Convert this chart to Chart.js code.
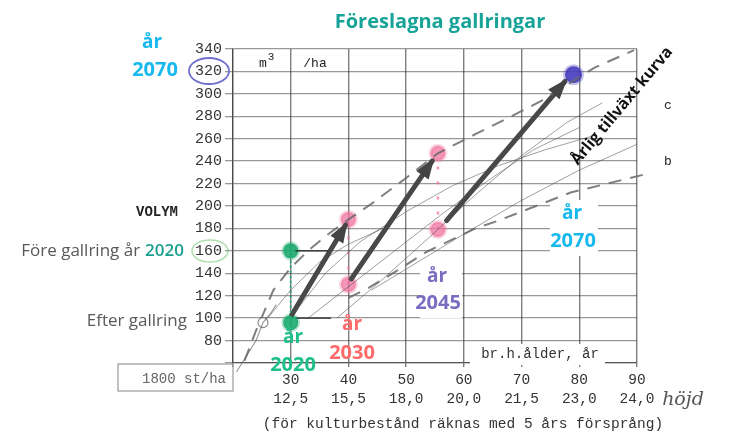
<!DOCTYPE html>
<html>
<head>
<meta charset="utf-8">
<script src="https://cdn.jsdelivr.net/npm/chart.js@4.4.1/dist/chart.umd.min.js"></script>
<style>
html, body { margin: 0; padding: 0; background: #fff; }
#wrap { width: 730px; height: 436px; position: relative; }
</style>
</head>
<body>
<div id="wrap"><canvas id="gallring" width="730" height="436"></canvas></div>
<script>
// x axis: breast height age and matching tree height
const ageTicks = [30, 40, 50, 60, 70, 80, 90];
const heightTicks = ['12,5', '15,5', '18,0', '20,0', '21,5', '23,0', '24,0'];

// thinnings: volume m3/ha before and after
const thinAges = [30, 40, 55.5];
const volBefore = [160, 188, 247];
const volAfter = [96, 130, 179];
const finalAge = [79];
const finalVol = [317];

// growth arrows between thinnings
const arrowStart = [[30.2, 103], [40.5, 135], [57, 187]];
const arrowEnd = [[39.5, 183], [54.5, 240], [77.5, 311]];

// dashed curves from the old table
const curveUpper = [[22, 62], [24, 89], [27, 125], [30, 145], [33, 160], [36, 173], [40, 188], [44, 202], [50, 225], [55.5, 247], [62, 264], [67.5, 278], [73.5, 294], [82.5, 323], [89.5, 339]];
const curveB = [[40, 118], [43.5, 127], [48, 141], [53.5, 159], [62, 180], [66, 187], [71.5, 198], [78.5, 212], [92, 229]];

// thin background curves
const thinCurves = [
    [[30.5, 104], [36, 140], [42, 168], [50, 195], [58, 218], [66, 236], [74, 250], [82, 262]],
    [[33, 100], [40, 128], [48, 160], [56, 192], [64, 222], [72, 250], [80, 270]],
    [[38, 100], [46, 135], [54, 172], [62, 210], [70, 245], [78, 275], [84, 292]],
    [[26, 100], [30, 125], [35, 150], [40, 166], [46, 180]],
    [[44, 125], [52, 150], [60, 175], [70, 205], [80, 232], [90, 255]]
];
const stepCurve = [[20.6, 52], [22.3, 66], [24, 80], [25.2, 96], [26.5, 104], [27.5, 112]];
const openCircle = [[25.2, 96]];

const toXY = arr => arr.map(p => ({ x: p[0], y: p[1] }));
const zipXY = (xs, ys) => xs.map((x, i) => ({ x: x, y: ys[i] }));

const datasets = [];
thinCurves.forEach(c => datasets.push({
    data: toXY(c), showLine: true, borderColor: 'rgba(80,80,80,0.55)', borderWidth: 1,
    pointRadius: 0, clip: false
}));
datasets.push({ data: toXY(stepCurve), showLine: true, borderColor: 'rgba(90,90,90,0.6)', borderWidth: 1.2, pointRadius: 0, clip: false });
datasets.push({ data: toXY(openCircle), pointRadius: 5, backgroundColor: '#fff', borderColor: 'rgba(90,90,90,0.7)', borderWidth: 1.2 });
datasets.push({ data: toXY(curveUpper), showLine: true, borderColor: 'rgba(105,105,105,0.85)', borderWidth: 2, borderDash: [13, 9], pointRadius: 0, clip: false });
datasets.push({ data: toXY(curveB), showLine: true, borderColor: 'rgba(105,105,105,0.85)', borderWidth: 2, borderDash: [13, 9], pointRadius: 0, clip: false });

// dotted verticals at each thinning
const dotColors = ['rgba(30,175,120,0.9)', 'rgba(240,110,160,0.6)', 'rgba(240,110,160,0.7)'];
thinAges.forEach((a, i) => datasets.push({
    data: [{ x: a, y: volAfter[i] }, { x: a, y: volBefore[i] }], showLine: true,
    borderColor: dotColors[i], borderWidth: i === 0 ? 2 : 2.5, borderDash: i === 0 ? [2, 3] : [3, 12], pointRadius: 0
}));

// short marker lines next to the 2020 points
datasets.push({ data: [{ x: 30.8, y: volBefore[0] }, { x: 36.5, y: volBefore[0] }], showLine: true, borderColor: '#222', borderWidth: 1.2, pointRadius: 0 });
datasets.push({ data: [{ x: 31, y: 100 }, { x: 37, y: 100 }], showLine: true, borderColor: '#222', borderWidth: 1.2, pointRadius: 0 });

const arrowIdx = [];
arrowStart.forEach((s, i) => {
    arrowIdx.push(datasets.length);
    datasets.push({ data: [{ x: s[0], y: s[1] }, { x: arrowEnd[i][0], y: arrowEnd[i][1] }], showLine: true, borderColor: '#484848', borderWidth: 5, pointRadius: 0, borderCapStyle: 'round' });
});

const ptColors = ['rgba(25,170,110,0.9)', 'rgba(240,115,160,0.75)', 'rgba(240,115,160,0.75)'];
const ptGlow = ['rgba(25,170,110,0.3)', 'rgba(240,115,160,0.3)', 'rgba(240,115,160,0.3)'];
datasets.push({ data: zipXY(thinAges, volBefore), pointRadius: 7.5, backgroundColor: ptColors, borderColor: ptGlow, borderWidth: 4 });
datasets.push({ data: zipXY(thinAges, volAfter), pointRadius: 7.5, backgroundColor: ptColors, borderColor: ptGlow, borderWidth: 4 });
datasets.push({ data: zipXY(finalAge, finalVol), pointRadius: 8.5, backgroundColor: 'rgba(70,60,190,0.9)', borderColor: 'rgba(70,60,190,0.3)', borderWidth: 4 });

function txt(ctx, s, x, y, font, color, align) {
    ctx.font = font;
    ctx.fillStyle = color;
    ctx.textAlign = align || 'center';
    ctx.textBaseline = 'middle';
    ctx.fillText(s, x, y);
}

const overlay = {
    id: 'overlay',
    beforeDatasetsDraw(chart) {
        const ctx = chart.ctx;
        ctx.save();
        ctx.fillStyle = '#fff';
        ctx.fillRect(420, 262, 42, 56);
        ctx.fillRect(550, 200, 48, 56);
        ctx.fillRect(470, 344, 135, 21);
        ctx.restore();
    },
    afterDatasetsDraw(chart) {
        const ctx = chart.ctx;
        ctx.save();
        // arrow heads
        arrowIdx.forEach(i => {
            const pts = chart.getDatasetMeta(i).data;
            const a = Math.atan2(pts[1].y - pts[0].y, pts[1].x - pts[0].x);
            const L = 17, W = 7.5;
            ctx.beginPath();
            ctx.moveTo(pts[1].x + Math.cos(a) * 4, pts[1].y + Math.sin(a) * 4);
            ctx.lineTo(pts[1].x - Math.cos(a) * L - Math.sin(a) * W, pts[1].y - Math.sin(a) * L + Math.cos(a) * W);
            ctx.lineTo(pts[1].x - Math.cos(a) * L + Math.sin(a) * W, pts[1].y - Math.sin(a) * L - Math.cos(a) * W);
            ctx.closePath();
            ctx.fillStyle = '#444';
            ctx.fill();
        });

        const mono = '"Liberation Mono", "DejaVu Sans Mono", monospace';
        const sans = '"Open Sans", sans-serif';

        txt(ctx, 'Föreslagna gallringar', 440, 22, 'bold 20px ' + sans, '#17a398');

        txt(ctx, 'år', 152, 43, 'bold 19px ' + sans, '#17b9ee');
        txt(ctx, '2070', 155, 70, 'bold 20px ' + sans, '#17b9ee');

        txt(ctx, 'VOLYM', 157, 212, 'bold 14px ' + mono, '#222');
        txt(ctx, 'm', 263, 64, '13px ' + mono, '#222');
        txt(ctx, '3', 271, 57, '11px ' + mono, '#222');
        txt(ctx, '/ha', 315, 64, '13px ' + mono, '#222');

        ctx.font = '600 17px ' + sans;
        const w2020 = ctx.measureText('2020').width;
        txt(ctx, '2020', 184, 251, '600 17px ' + sans, '#1a9e8e', 'right');
        txt(ctx, 'Före gallring år', 184 - w2020 - 5, 251, '17px ' + sans, '#595959', 'right');
        txt(ctx, 'Efter gallring', 187, 321, '17px ' + sans, '#595959', 'right');

        txt(ctx, 'år', 293, 338, 'bold 19px ' + sans, '#1fbf8c');
        txt(ctx, '2020', 293, 365, 'bold 20px ' + sans, '#1fbf8c');
        txt(ctx, 'år', 352, 325, 'bold 19px ' + sans, '#ff6b6b');
        txt(ctx, '2030', 352, 353, 'bold 20px ' + sans, '#ff6b6b');
        txt(ctx, 'år', 437, 277, 'bold 19px ' + sans, '#7a6cc0');
        txt(ctx, '2045', 438, 303, 'bold 20px ' + sans, '#7a6cc0');
        txt(ctx, 'år', 572, 214, 'bold 19px ' + sans, '#17b9ee');
        txt(ctx, '2070', 573, 241, 'bold 20px ' + sans, '#17b9ee');

        txt(ctx, 'c', 668, 106, '13px ' + mono, '#222');
        txt(ctx, 'b', 668, 162, '13px ' + mono, '#222');
        txt(ctx, 'br.h.ålder, år', 540, 354, '14px ' + mono, '#333');

        // rotated label
        ctx.save();
        ctx.translate(622, 106);
        ctx.rotate(-50 * Math.PI / 180);
        txt(ctx, 'Årlig tillväxt kurva', 0, 0, 'bold 16px ' + sans, '#111');
        ctx.restore();

        // circled tick labels
        ctx.lineWidth = 1.8;
        ctx.strokeStyle = '#6f6fcf';
        ctx.beginPath();
        ctx.ellipse(209, 71, 20, 13, 0, 0, Math.PI * 2);
        ctx.stroke();
        ctx.strokeStyle = 'rgba(120,200,120,0.6)';
        ctx.lineWidth = 1.5;
        ctx.beginPath();
        ctx.ellipse(210, 251, 18, 11, 0, 0, Math.PI * 2);
        ctx.stroke();

        // stem count box
        ctx.strokeStyle = '#999';
        ctx.lineWidth = 1.2;
        ctx.strokeRect(118, 364, 115, 27);
        txt(ctx, '1800 st/ha', 184, 379, '14px ' + mono, '#666');

        txt(ctx, 'höjd', 683, 400, 'italic 19px "DejaVu Serif", serif', '#555');
        txt(ctx, '(för kulturbestånd räknas med 5 års försprång)', 463, 424, '14.5px ' + mono, '#333');
        ctx.restore();
    }
};

new Chart(document.getElementById('gallring'), {
    type: 'scatter',
    data: { datasets: datasets },
    options: {
        responsive: false,
        animation: false,
        events: [],
        layout: { padding: { left: 0, right: 93, top: 49, bottom: 0 } },
        plugins: { legend: { display: false }, tooltip: { enabled: false }, title: { display: false } },
        scales: {
            x: {
                type: 'linear', min: 20, max: 90,
                afterFit: s => { s.height = 73; },
                grid: { color: 'rgba(40,40,40,0.6)', lineWidth: 1.4, tickLength: 4 },
                border: { color: 'rgba(40,40,40,0.6)', width: 1.3 },
                ticks: {
                    stepSize: 10, padding: 4, color: '#333',
                    font: { family: '"Liberation Mono", monospace', size: 14.5, lineHeight: 1.3 },
                    maxRotation: 0,
                    callback: v => {
                        const i = ageTicks.indexOf(v);
                        return i < 0 ? '' : [String(v), heightTicks[i]];
                    }
                }
            },
            y: {
                type: 'linear', min: 60, max: 340,
                afterFit: s => { s.width = 233; },
                grid: { color: 'rgba(50,50,50,0.5)', lineWidth: 1.3, tickLength: 8 },
                border: { color: 'rgba(40,40,40,0.6)', width: 1.3 },
                ticks: {
                    stepSize: 10, padding: 3, color: '#333',
                    font: { family: '"Liberation Mono", monospace', size: 15 },
                    callback: v => (v >= 80 && v % 20 === 0) ? String(v) : ''
                }
            }
        }
    },
    plugins: [overlay]
});
</script>
</body>
</html>
